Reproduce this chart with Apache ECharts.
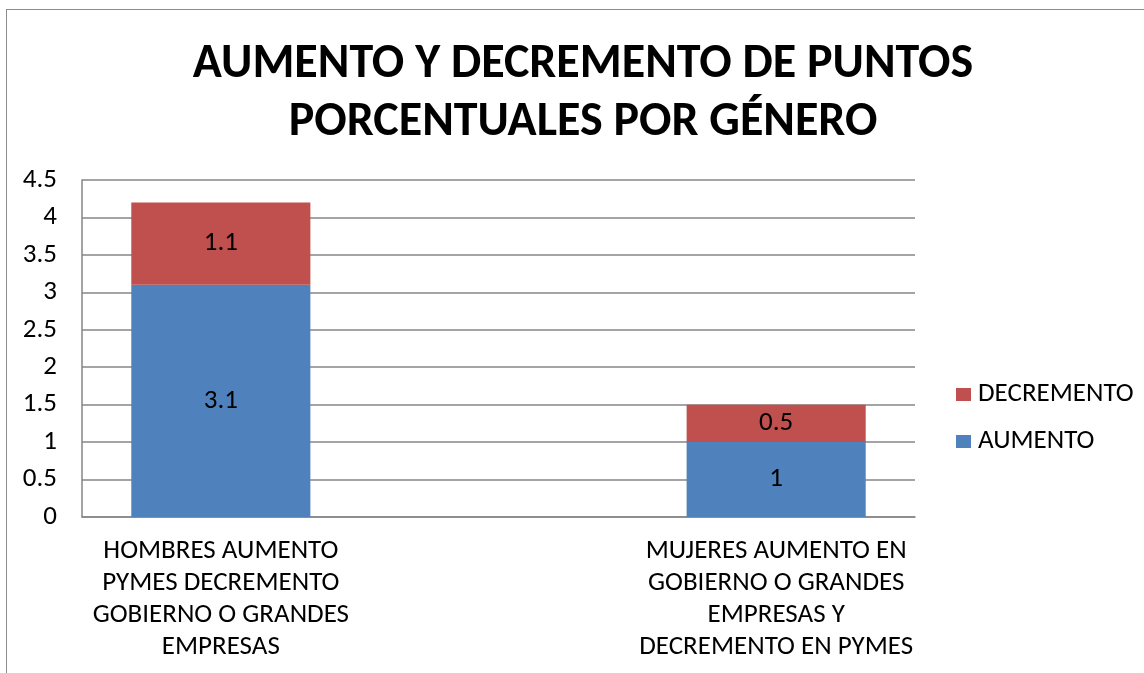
<!DOCTYPE html>
<html>
<head>
<meta charset="utf-8">
<script src="https://cdn.jsdelivr.net/npm/echarts@6/dist/echarts.min.js"></script>
<style>
html,body{margin:0;padding:0;background:#fff;overflow:hidden;}
#frame{position:absolute;left:6px;top:9px;width:1200px;height:700px;border-left:1.5px solid #8c8c8c;border-top:1.5px solid #8c8c8c;}
#chart{position:absolute;left:0;top:0;width:1144px;height:673px;}
</style>
</head>
<body>
<div id="frame"></div>
<div id="chart"></div>
<script>
const titleText = 'AUMENTO Y DECREMENTO DE PUNTOS\nPORCENTUALES POR GÉNERO';
const categories = [
  'HOMBRES AUMENTO\nPYMES DECREMENTO\nGOBIERNO O GRANDES\nEMPRESAS',
  '',
  'MUJERES AUMENTO EN\nGOBIERNO O GRANDES\nEMPRESAS Y\nDECREMENTO EN PYMES'
];
const seriesNames = ['AUMENTO', 'DECREMENTO'];
const aumento = [3.1, null, 1];
const decremento = [1.1, null, 0.5];
const yMin = 0, yMax = 4.5, yStep = 0.5;

const FONT = 'Carlito, Lato, "Open Sans", sans-serif';
const FS = 27;
const chart = echarts.init(document.getElementById('chart'), null, {renderer: 'canvas'});
const labelStyle = {show: true, position: 'inside', color: '#000', fontFamily: FONT, fontSize: FS,
  formatter: p => (p.value == null ? '' : String(p.value))};
chart.setOption({
  animation: false,
  backgroundColor: 'transparent',
  title: {
    text: titleText,
    left: 578, top: 31, textAlign: 'center',
    textStyle: {fontFamily: FONT, fontWeight: 'bold', fontSize: 48, lineHeight: 58, color: '#000'}
  },
  legend: {
    data: [seriesNames[1], seriesNames[0]],
    orient: 'vertical',
    left: 951, top: 376,
    itemWidth: 15, itemHeight: 13, itemGap: 20,
    icon: 'rect',
    textStyle: {fontFamily: FONT, fontSize: FS, color: '#000', padding: [0, 0, 0, 2]}
  },
  grid: {left: 82, right: 229, top: 180, bottom: 156, containLabel: false},
  xAxis: {
    type: 'category',
    data: categories,
    axisLine: {lineStyle: {color: '#868686', width: 1.5}},
    axisTick: {show: false},
    axisLabel: {interval: 0, fontFamily: FONT, fontSize: FS, lineHeight: 32, color: '#000', margin: 18, align: 'center'}
  },
  yAxis: {
    type: 'value', min: yMin, max: yMax, interval: yStep,
    axisLine: {show: true, lineStyle: {color: '#868686', width: 1.5}},
    axisTick: {show: false},
    splitLine: {lineStyle: {color: '#868686', width: 1.5}},
    axisLabel: {fontFamily: FONT, fontSize: FS, color: '#000', margin: 25}
  },
  series: [
    {name: seriesNames[0], type: 'bar', stack: 'a', data: aumento, barWidth: '64.5%',
     itemStyle: {color: '#4F81BD'}, label: labelStyle},
    {name: seriesNames[1], type: 'bar', stack: 'a', data: decremento, barWidth: '64.5%',
     itemStyle: {color: '#C0504D'}, label: labelStyle}
  ]
});
</script>
</body>
</html>
